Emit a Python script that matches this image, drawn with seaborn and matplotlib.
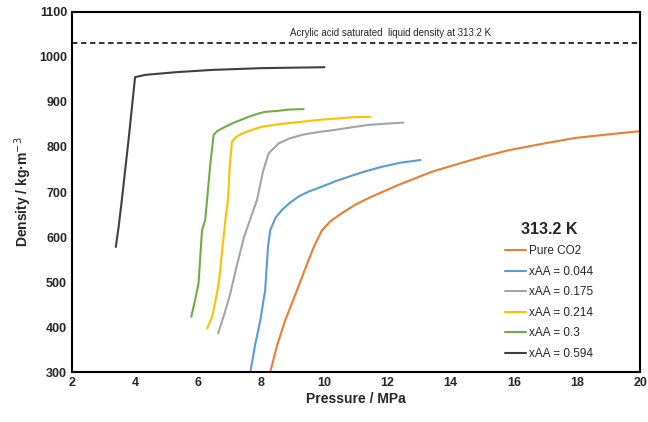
import matplotlib
matplotlib.use("Agg")
import matplotlib.pyplot as plt
from matplotlib.ticker import MultipleLocator
import seaborn as sns
import pandas as pd

# values
p_co2 = [8.28, 8.5, 8.76, 9.13, 9.45, 9.66, 9.8, 9.92, 10.2, 10.55, 11.0, 11.5, 12.35, 13.4,
         14.26, 15.0, 15.85, 16.9, 17.94, 19.0, 20.0]
d_co2 = [300, 360, 416, 482, 541, 578, 598, 615, 636, 653, 673, 690, 716, 745,
         763, 778, 793, 807, 820, 828, 835]

p_044 = [7.65, 7.8, 7.97, 8.12, 8.21, 8.28, 8.45, 8.65, 8.9, 9.18, 9.5, 9.92, 10.35, 10.77,
         11.3, 11.82, 12.4, 13.04]
d_044 = [300, 360, 416, 482, 578, 615, 643, 660, 676, 690, 701, 712, 724, 734,
         746, 756, 765, 771]

p_175 = [6.63, 6.8, 7.0, 7.2, 7.45, 7.6, 7.86, 8.05, 8.23, 8.55, 8.9, 9.29, 9.8, 10.34,
         10.9, 11.4, 12.0, 12.5]
d_175 = [386, 423, 470, 530, 600, 630, 682, 745, 786, 808, 819, 827, 833, 838,
         844, 849, 852, 854]

p_214 = [6.28, 6.44, 6.55, 6.65, 6.77, 6.86, 6.94, 7.0, 7.07, 7.2, 7.39, 7.7, 8.02, 8.6,
         9.29, 9.8, 10.34, 10.9, 11.45]
d_214 = [397, 423, 460, 497, 578, 638, 682, 760, 812, 822, 830, 838, 845, 851,
         856, 860, 863, 866, 867]

p_300 = [5.78, 5.9, 6.01, 6.12, 6.22, 6.28, 6.38, 6.49, 6.6, 6.75, 7.1, 7.6, 7.9, 8.12,
         8.5, 8.87, 9.34]
d_300 = [423, 460, 497, 615, 638, 682, 760, 827, 835, 841, 853, 867, 874, 878,
         880, 883, 884]

p_594 = [3.39, 3.48, 3.58, 3.8, 4.0, 4.32, 5.3, 6.43, 8.02, 9.0, 10.0]
d_594 = [578, 623, 682, 820, 955, 960, 966, 971, 975, 976, 977]

series = ["Pure CO2", "xAA = 0.044", "xAA = 0.175", "xAA = 0.214", "xAA = 0.3", "xAA = 0.594"]
colors = ["#ED7D31", "#5B9BD5", "#A5A5A5", "#FFC000", "#70AD47", "#404040"]
aa_density = 1031

frames = []
for name, p, d in zip(series,
                      [p_co2, p_044, p_175, p_214, p_300, p_594],
                      [d_co2, d_044, d_175, d_214, d_300, d_594]):
    frames.append(pd.DataFrame({"Pressure": p, "Density": d, "serie": name}))
df = pd.concat(frames, ignore_index=True)

sns.set_style("white")
plt.rcParams["font.family"] = ["Liberation Sans", "DejaVu Sans"]

fig = plt.figure(figsize=(6.48, 4.22), dpi=100)
ax = fig.add_axes([0.111, 0.118, 0.877, 0.854])

sns.lineplot(data=df, x="Pressure", y="Density", hue="serie", hue_order=series,
             palette=colors, sort=False, estimator=None, linewidth=1.5, ax=ax)

ax.axhline(aa_density, color="#222222", linestyle=(0, (3, 2)), linewidth=1.3)
ax.text(12.1, 1042, "Acrylic acid saturated  liquid density at 313.2 K",
        ha="center", va="bottom", fontsize=7)

ax.set_xlim(2, 20)
ax.set_ylim(300, 1100)
ax.xaxis.set_major_locator(MultipleLocator(2))
ax.xaxis.set_minor_locator(MultipleLocator(0.5))
ax.yaxis.set_major_locator(MultipleLocator(100))
ax.yaxis.set_minor_locator(MultipleLocator(20))
ax.tick_params(which="both", direction="in", labelsize=9, width=1)
ax.tick_params(which="major", length=4)
ax.tick_params(which="minor", length=2.5)
for lab in ax.get_xticklabels() + ax.get_yticklabels():
    lab.set_fontweight("bold")

for s in ax.spines.values():
    s.set_color("black")
    s.set_linewidth(1.5)

ax.set_xlabel("Pressure / MPa", fontsize=10, fontweight="bold", labelpad=2)
ax.set_ylabel("Density / kg·m$^{-3}$", fontsize=10, fontweight="bold", labelpad=4)

leg = ax.legend(loc="lower right", bbox_to_anchor=(0.935, 0.005), frameon=False,
                title="313.2 K", fontsize=8.5, handlelength=1.8, handletextpad=0.2,
                labelspacing=0.72)
leg.get_title().set_fontweight("bold")
leg.get_title().set_fontsize(11.5)
leg._legend_box.align = "center"

fig.savefig("out.png", dpi=100)
